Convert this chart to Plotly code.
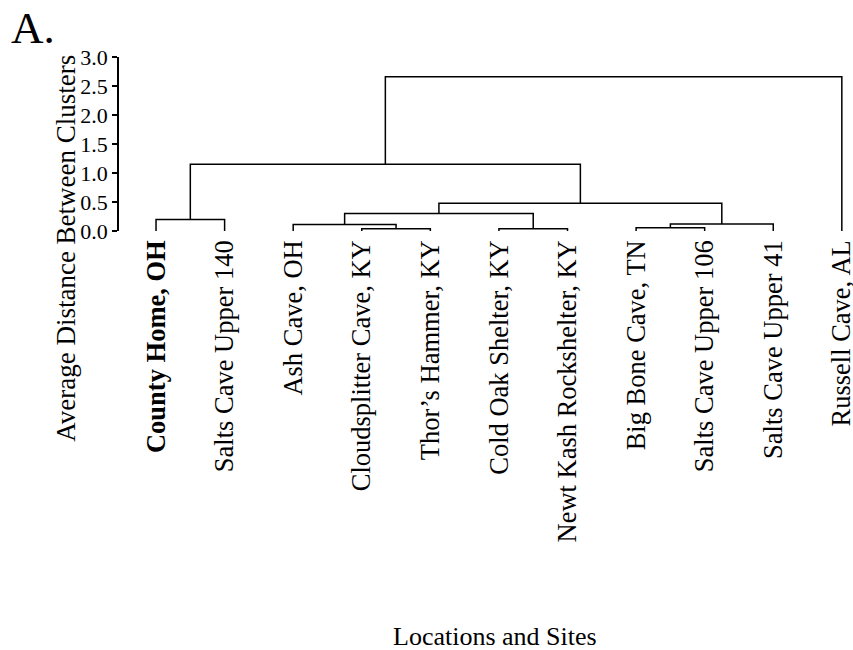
import plotly.graph_objects as go

# ---- data ----
leaf_labels = [
    "<b>County Home, OH</b>", "Salts Cave Upper 140", "Ash Cave, OH",
    "Cloudsplitter Cave, KY", "Thor\u2019s Hammer, KY", "Cold Oak Shelter, KY",
    "Newt Kash Rockshelter, KY", "Big Bone Cave, TN", "Salts Cave Upper 106",
    "Salts Cave Upper 41", "Russell Cave, AL",
]
# merges: (left child, right child, height); ids >= 11 refer to earlier merges
merge_left = [3, 5, 7, 2, 13, 0, 14, 17, 16, 19]
merge_right = [4, 6, 8, 11, 9, 1, 12, 15, 18, 10]
merge_height = [0.04, 0.04, 0.055, 0.11, 0.12, 0.20, 0.30, 0.48, 1.15, 2.66]
y_ticks = [0.0, 0.5, 1.0, 1.5, 2.0, 2.5, 3.0]

n = len(leaf_labels)
pos = {i: float(i) for i in range(n)}
hgt = {i: 0.0 for i in range(n)}
xs, ys = [], []
for k, (a, b, h) in enumerate(zip(merge_left, merge_right, merge_height)):
    xs += [pos[a], pos[a], pos[b], pos[b], None]
    ys += [hgt[a], h, h, hgt[b], None]
    nid = n + k
    pos[nid] = (pos[a] + pos[b]) / 2
    hgt[nid] = h

FONT = "Liberation Serif, Times New Roman, serif"
fig = go.Figure()
fig.add_trace(go.Scatter(x=xs, y=ys, mode="lines",
                         line=dict(color="black", width=1.5),
                         hoverinfo="skip", showlegend=False, cliponaxis=False))

fig.update_layout(
    width=853, height=650,
    margin=dict(l=119, r=5, t=57, b=419),
    paper_bgcolor="white", plot_bgcolor="white",
    font=dict(family=FONT, color="black"),
    showlegend=False,
    xaxis=dict(range=[-0.54, 10.09], tickmode="array",
               tickvals=list(range(n)), ticktext=leaf_labels,
               tickangle=-90, showgrid=False, zeroline=False, showline=False,
               ticks="", tickfont=dict(size=26.5, family=FONT, color="black"),
               ticklabelstandoff=3, ticklabeloverflow="allow",
               automargin=False),
    yaxis=dict(range=[0, 3], tickmode="array", tickvals=y_ticks,
               tickformat=".1f", showgrid=False, zeroline=False,
               showline=True, linecolor="black", linewidth=1.5,
               ticks="outside", ticklen=5, tickwidth=1.5, tickcolor="black",
               tickfont=dict(size=22, family=FONT, color="black"),
               automargin=False),
    annotations=[
        dict(text="Average Distance Between Clusters", textangle=-90,
             xref="paper", yref="paper", x=-0.073, y=-0.0977,
             xanchor="center", yanchor="middle", showarrow=False,
             font=dict(size=27, family=FONT, color="black")),
        dict(text="Locations and Sites", xref="paper", yref="paper",
             x=0.516, y=-2.333, xanchor="center", yanchor="middle",
             showarrow=False, font=dict(size=26, family=FONT, color="black")),
        dict(text="A.", xref="paper", yref="paper", x=-0.1507, y=1.165,
             xanchor="left", yanchor="middle", showarrow=False,
             font=dict(size=45, family=FONT, color="black")),
    ],
)
fig.write_html(
    "out.html",
    config={"displayModeBar": False},
    post_script="document.body.style.margin='0';document.body.style.overflow='hidden';",
)
